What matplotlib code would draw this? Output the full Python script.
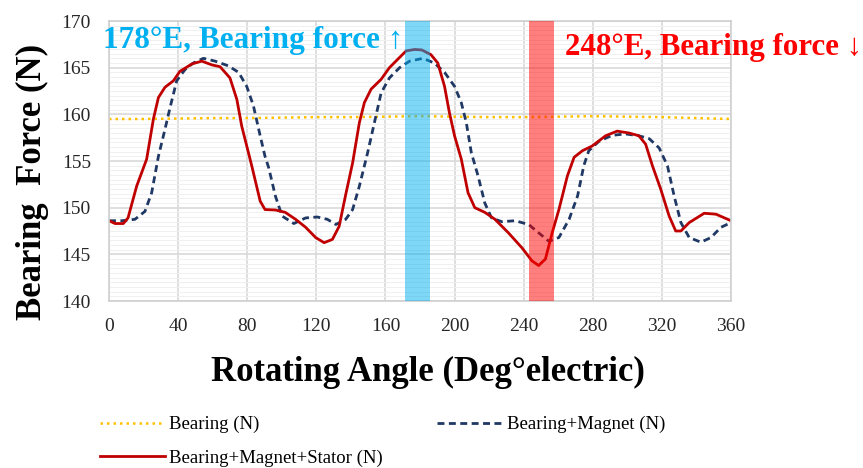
#!/usr/bin/env python3
"""
Bearing force vs rotating angle (three load cases)
"""

import numpy as np
import matplotlib.pyplot as plt
from matplotlib.ticker import MultipleLocator

# Bearing only (dotted yellow)
bearing_deg = [0, 20, 40, 60, 80, 100, 120, 140, 160, 180, 200, 220, 240, 260,
               280, 300, 320, 340, 360]
bearing_n = [159.5, 159.5, 159.55, 159.6, 159.6, 159.65, 159.7, 159.7, 159.75,
             159.8, 159.75, 159.7, 159.7, 159.75, 159.8, 159.75, 159.7, 159.6,
             159.5]

# Bearing + Magnet (dashed navy)
magnet_deg = [0, 7.3, 15, 20.8, 24.7, 28.6, 32.4, 35.3, 39.2, 44, 48.8, 54.6,
              61.4, 69, 75, 79.7, 83.6, 87.5, 90.3, 92.4, 96.3, 100.2, 107,
              113.8, 120.6, 126.4, 131.3, 137, 141, 144.9, 149.7, 153.6, 157.5,
              162.3, 168.2, 174, 181.7, 188.3, 194.2, 200, 203.9, 206.8, 209.7,
              213.6, 217.5, 221.4, 227.3, 235, 242.9, 248.7, 254.6, 260.4,
              266.3, 271.2, 274.8, 277.7, 283.5, 291.2, 299, 306.7, 312.6,
              318.4, 323.2, 327.1, 331, 335.8, 342.6, 348.4, 354.2, 360]
magnet_n = [148.6, 148.6, 148.75, 149.6, 151.6, 155.5, 158.4, 160.7, 163.6,
            164.8, 165.5, 166.0, 165.7, 165.2, 164.5, 163.0, 160.9, 157.7,
            155.5, 154.3, 151.25, 149.1, 148.3, 148.9, 149.0, 148.75, 148.2,
            148.75, 149.8, 152.3, 155.9, 159.1, 162.3, 163.9, 165.0, 165.7,
            166.0, 165.5, 164.5, 163.0, 161.25, 159.1, 155.9, 153.4, 150.5,
            148.9, 148.5, 148.6, 148.2, 147.3, 146.4, 146.8, 148.75, 151.25,
            154.5, 156.1, 157.1, 157.75, 157.9, 157.7, 157.4, 156.4, 154.5,
            151.25, 148.4, 146.8, 146.3, 146.8, 147.9, 148.4]

# Bearing + Magnet + Stator (solid red)
stator_deg = [0, 3.5, 8.3, 11, 16, 21.8, 25.7, 28.6, 32.4, 37.3, 41, 48, 53.7,
              59.5, 64.3, 70, 74, 76.8, 82.6, 87.5, 90.3, 96.3, 102, 108,
              113.8, 119.6, 124.5, 129.3, 133.2, 137, 141, 144.9, 147.8, 151.7,
              157.5, 162.3, 168.2, 172, 177, 181, 186.3, 190.3, 194.2, 197,
              200, 203.9, 207.8, 211.7, 217.5, 223.4, 231.2, 239, 244.8, 248.7,
              252.6, 256.5, 260.4, 265.3, 269.2, 274, 279.6, 287.4, 294.1, 301,
              306.7, 310.6, 314.5, 319.3, 324.2, 328, 331, 335.8, 344.5, 351.3,
              360]
stator_n = [148.6, 148.3, 148.3, 148.9, 152.3, 155.2, 159.5, 161.8, 162.9,
            163.6, 164.6, 165.4, 165.7, 165.3, 165.1, 163.9, 161.6, 158.75,
            154.5, 150.7, 149.8, 149.75, 149.5, 148.75, 147.9, 146.8, 146.25,
            146.6, 148.0, 151.4, 154.8, 159.1, 161.25, 162.7, 163.75, 165.0,
            166.1, 166.8, 166.95, 166.9, 166.4, 165.5, 163.0, 160.2, 157.7,
            155.2, 151.6, 150.0, 149.5, 148.75, 147.3, 145.7, 144.3, 143.8,
            144.5, 147.3, 149.8, 153.4, 155.4, 156.1, 156.6, 157.7, 158.2,
            158.0, 157.7, 156.8, 154.5, 152.0, 149.1, 147.5, 147.5, 148.4,
            149.4, 149.3, 148.6]

# highlighted angle windows
up_band = (171.5, 185.5)
down_band = (243.3, 257.3)

serif = ['Liberation Serif', 'DejaVu Serif']

fig = plt.figure(figsize=(8.63, 4.68), dpi=100)
ax = fig.add_axes([109 / 863, 1 - 301 / 468, 622 / 863, 280 / 468])

ax.plot(bearing_deg, bearing_n, color='#FFC000', lw=1.8, ls=(0, (1, 1.6)),
        label='Bearing (N)')
ax.plot(magnet_deg, magnet_n, color='#1F3864', lw=2.0, ls=(0, (2.5, 1.6)),
        label='Bearing+Magnet (N)')
ax.plot(stator_deg, stator_n, color='#C00000', lw=2.0,
        label='Bearing+Magnet+Stator (N)')

ax.axvspan(*up_band, color='#00B0F0', alpha=0.5, lw=0, zorder=5)
ax.axvspan(*down_band, color='#FF0000', alpha=0.5, lw=0, zorder=5)

ax.set_xlim(0, 360)
ax.set_ylim(140, 170)
ax.xaxis.set_major_locator(MultipleLocator(40))
ax.yaxis.set_major_locator(MultipleLocator(5))
ax.yaxis.set_minor_locator(MultipleLocator(0.5))
ax.grid(which='major', color='#D9D9D9', lw=1.2)
ax.grid(which='minor', axis='y', color='#F0F0F0', lw=0.7)
ax.set_axisbelow(True)
for s in ax.spines.values():
    s.set_color('#D0D0D0')
    s.set_linewidth(1.2)
ax.tick_params(which='both', length=0)
ax.tick_params(axis='x', pad=12)
ax.tick_params(axis='y', pad=13)
for lab in ax.get_xticklabels() + ax.get_yticklabels():
    lab.set_family(serif)
    lab.set_fontsize(14)
    lab.set_color('#262626')

fig.text(428 / 863, 1 - 372 / 468, 'Rotating Angle (Deg°electric)',
         family=serif, fontweight='bold', fontsize=25, ha='center', va='center')
fig.text(32 / 863, 1 - 182 / 468, 'Bearing  Force (N)', rotation=90,
         family=serif, fontweight='bold', fontsize=25, ha='center', va='center')

fig.text(103 / 863, 1 - 48 / 468, '178°E, Bearing force ↑', color='#00B0F0',
         family=serif, fontweight='bold', fontsize=22.5, ha='left', va='baseline')
fig.text(565 / 863, 1 - 55 / 468, '248°E, Bearing force ↓', color='#FF0000',
         family=serif, fontweight='bold', fontsize=22.3, ha='left', va='baseline')

# legend row-major: reorder for matplotlib's column fill
h, l = ax.get_legend_handles_labels()
order = [0, 2, 1]
fig.legend([h[i] for i in order], [l[i] for i in order], ncol=2,
           loc='upper left', bbox_to_anchor=(83 / 863, 1 - 399 / 468),
           frameon=False, prop={'family': serif, 'size': 13.5},
           handlelength=3.45, handletextpad=0.25, columnspacing=2.9,
           labelspacing=0.87)

plt.savefig('out.png', dpi=100)
